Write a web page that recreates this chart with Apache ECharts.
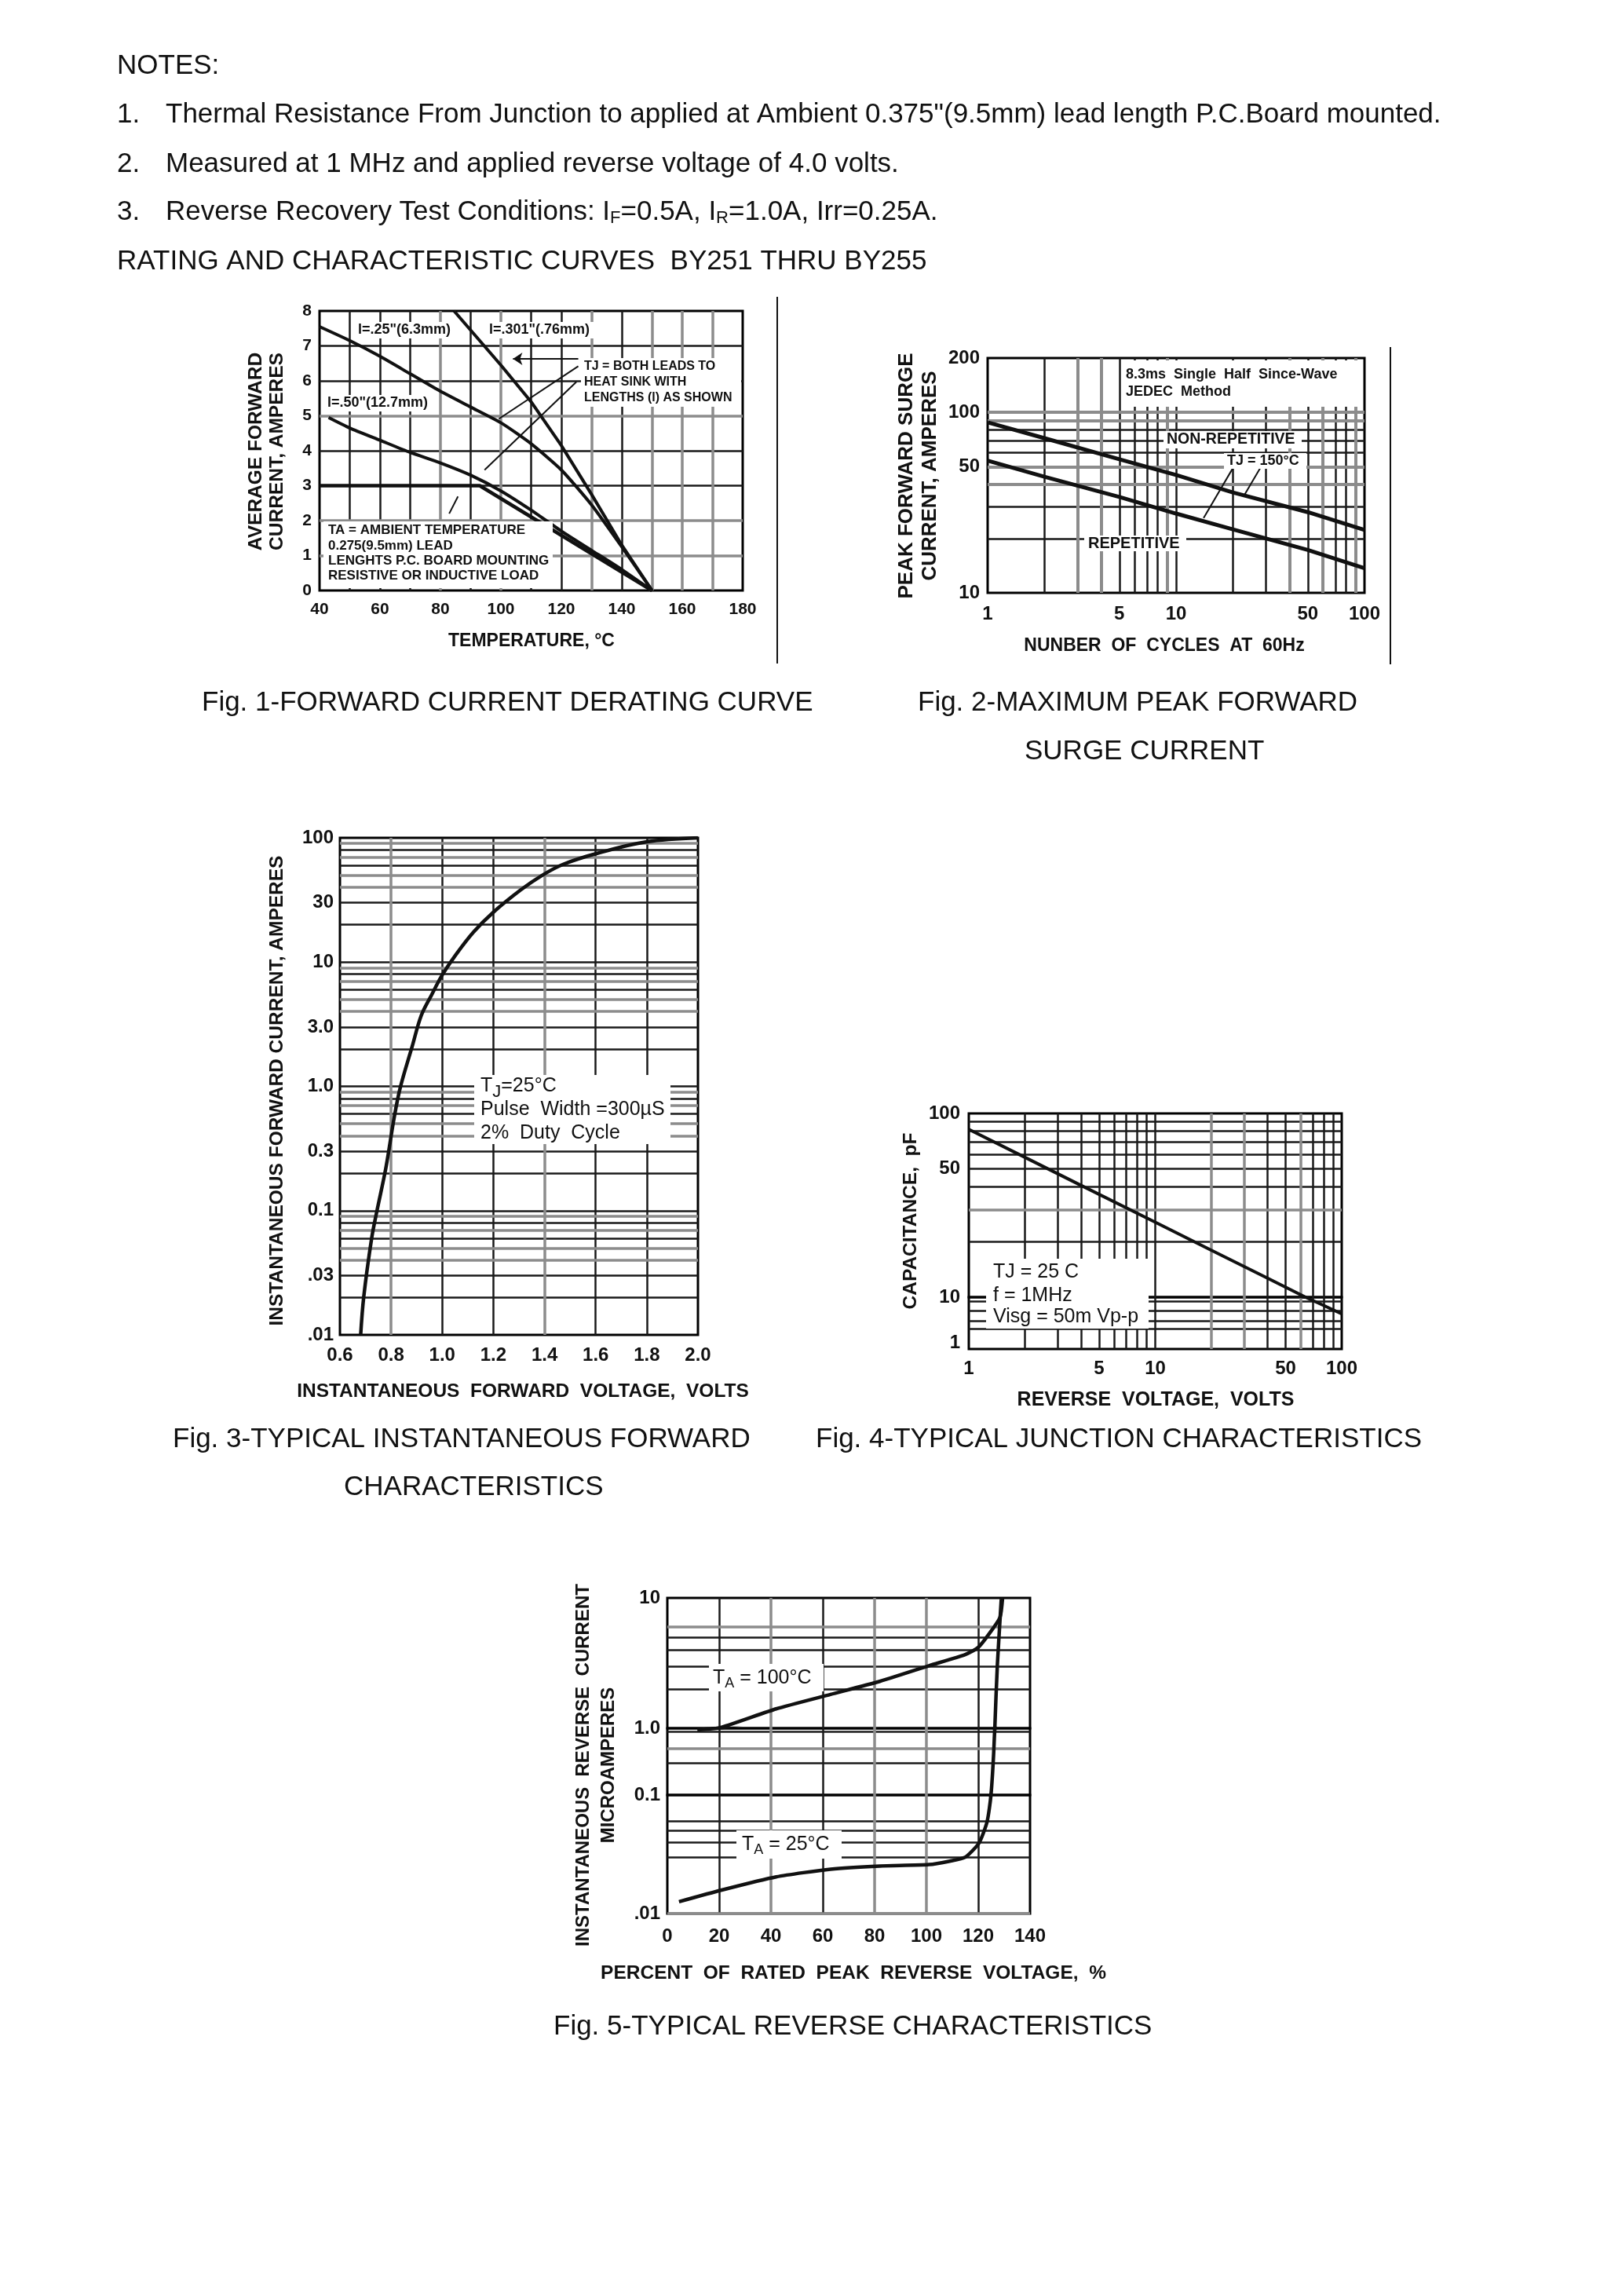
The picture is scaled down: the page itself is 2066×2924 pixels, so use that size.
<!DOCTYPE html>
<html>
<head>
<meta charset="utf-8">
<script src="https://cdn.jsdelivr.net/npm/echarts@6/dist/echarts.min.js"></script>
<style>
  html, body { margin: 0; background: #fff; }
  #page { width: 2066px; height: 2924px; }
</style>
</head>
<body>
<div id="page"></div>
<script>
// ---- Fig. 1 forward current derating (temperature °C / amperes)
const fig1TempShort = [84.5, 90, 100, 110, 120, 130, 140, 150];
const fig1AmpShort = [8, 7.45, 6.45, 5.4, 4.15, 2.75, 1.3, 0];
const fig1TempMid = [40, 50, 60, 70, 80, 90, 100, 110, 120, 130, 140, 150];
const fig1AmpMid = [7.55, 7.15, 6.7, 6.2, 5.7, 5.25, 4.8, 4.2, 3.45, 2.45, 1.25, 0];
const fig1TempLong = [43, 50, 60, 70, 80, 90, 100, 110, 120, 130, 140, 150];
const fig1AmpLong = [4.95, 4.65, 4.3, 3.95, 3.65, 3.3, 2.85, 2.3, 1.7, 1.15, 0.6, 0];
const fig1TempAmbient = [40, 93, 150];
const fig1AmpAmbient = [3, 3, 0];
const fig1GridXDark = [50, 60, 70, 90, 110, 120, 140];
const fig1GridXLight = [80, 100, 130, 150, 160, 170];
const fig1GridYDark = [3, 4, 6, 7];
const fig1GridYLight = [1, 2, 5];
const fig1LeaderFrom = [[125.6, 6.63], [125.6, 6.42], [125, 5.97], [85.8, 2.69]];
const fig1LeaderTo = [[104, 6.63], [99.3, 4.91], [94.6, 3.45], [82.9, 2.2]];

// ---- Fig. 2 peak forward surge current (cycles / amperes)
const fig2Cycles = [1, 2, 5, 10, 20, 50, 100];
const fig2NonRepetitive = [88, 72, 55, 45, 36, 28, 22.3];
const fig2Repetitive = [54, 44, 34, 27.5, 22.5, 17.3, 13.7];
const fig2TicksY = [10, 50, 100, 200];
const fig2TickLabelsY = ['10', '50', '100', '200'];
const fig2GridXDark = [2, 5, 6, 7, 8, 10, 20, 30, 50, 70, 80];
const fig2GridXLight = [3, 4, 9, 40, 60, 90];
const fig2GridYDark = [20, 30, 60, 70, 80];
const fig2GridYLight = [40, 50, 90, 100];
const fig2LeaderFrom = [[20, 49], [27.9, 49]];
const fig2LeaderTo = [[14, 26], [23.1, 35]];

// ---- Fig. 3 instantaneous forward (volts / amperes)
const fig3Volts = [0.681, 0.693, 0.724, 0.744, 0.780, 0.812, 0.836, 0.882, 0.918, 0.959, 1.0, 1.051, 1.123, 1.2, 1.307, 1.389, 1.471, 1.606, 1.8, 2.0];
const fig3Amps = [0.01, 0.0202, 0.06, 0.098, 0.223, 0.56, 0.98, 2.08, 3.72, 5.47, 7.87, 11.3, 17.5, 25.2, 38.1, 49.7, 61, 75, 93, 100];
const fig3TicksY = [0.01, 0.03, 0.1, 0.3, 1, 3, 10, 30, 100];
const fig3TickLabelsY = ['.01', '.03', '0.1', '0.3', '1.0', '3.0', '10', '30', '100'];
const fig3GridXDark = [1.0, 1.2, 1.6, 1.8];
const fig3GridXLight = [0.8, 1.4];
const fig3GridYDark = [0.02, 0.03, 0.06, 0.08, 0.1, 0.2, 0.3, 0.6, 0.8, 1, 2, 3, 6, 8, 10, 20, 30, 60, 80];
const fig3GridYLight = [0.04, 0.05, 0.07, 0.09, 0.4, 0.5, 0.7, 0.9, 4, 5, 7, 9, 40, 50, 70, 90];

// ---- Fig. 4 junction capacitance (volts / pF); drawn on two stacked decades
const fig4Volts = [1, 2, 4, 10, 20, 40, 64, 80, 100];
const fig4Picofarads = [82, 57.7, 40.6, 25.6, 18, 12.7, 10, 6.6, 4.3];
const fig4TicksTop = [10, 50, 100];
const fig4TickLabelsTop = ['10', '50', '100'];
const fig4TicksBottom = [1];
const fig4TickLabelsBottom = ['1'];
const fig4GridXDark = [2, 3, 4, 5, 6, 7, 8, 9, 10, 40, 50, 70, 80, 90];
const fig4GridXLight = [20, 30, 60];
const fig4GridYDark = [2, 3, 5, 8, 20, 40, 50, 60, 70, 80, 90];
const fig4GridYLight = [30];

// ---- Fig. 5 reverse current (percent / microamperes); three stacked decades
const fig5Percent100 = [11.6, 21, 42, 63, 82, 101, 115, 120, 124.5, 128.4, 129.4];
const fig5Micro100 = [0.95, 1.02, 1.41, 1.82, 2.29, 3.02, 3.68, 4.17, 5.4, 7.1, 10];
const fig5Percent25 = [4.5, 21, 42, 63, 82, 101, 109, 115, 120.3, 123.4, 124.9, 125.9, 126.4, 127.4, 128.9];
const fig5Micro25 = [0.0126, 0.0158, 0.0204, 0.0237, 0.0252, 0.0259, 0.0277, 0.0299, 0.0394, 0.0593, 0.1, 0.38, 1.0, 3.1, 9.8];
const fig5TicksA = [1, 10];
const fig5TickLabelsA = ['1.0', '10'];
const fig5TicksB = [0.1];
const fig5TickLabelsB = ['0.1'];
const fig5TicksC = [0.01];
const fig5TickLabelsC = ['.01'];
const fig5GridXDark = [20, 60, 120];
const fig5GridXLight = [40, 80, 100];
const fig5GridYDark = [0.03, 0.04, 0.05, 0.06, 0.3, 0.9, 2, 3, 4, 5];
const fig5GridYLight = [0.015, 0.5, 6];

const logTicksX = [1, 5, 10, 50, 100];
const logTickLabelsX = ['1', '5', '10', '50', '100'];

const FONT = '"Liberation Sans", Arial, Helvetica, sans-serif';
const INK = '#111';
const DARK = '#1a1a1a';
const LIGHT = '#8c8c8c';

const pick = (vals, txt) => v => {
  const i = vals.findIndex(t => Math.abs(t - v) < t * 1e-3 + 1e-9);
  return i < 0 ? '' : txt[i];
};

function axis(gridIndex, type, min, max, label, extra) {
  return Object.assign({
    gridIndex, type, min, max,
    axisLine: { show: false }, axisTick: { show: false }, splitLine: { show: false },
    axisLabel: Object.assign({ fontFamily: FONT, fontWeight: 'bold', fontSize: 24, color: INK }, label)
  }, extra || {});
}

function rules(gi, xs, ys, color, width, yMin, yMax) {
  const inY = ys.filter(v => yMin === undefined || (v > yMin && v < yMax));
  return {
    type: 'line', xAxisIndex: gi, yAxisIndex: gi, data: [], silent: true, z: 1,
    markLine: {
      silent: true, symbol: 'none', animation: false, label: { show: false },
      lineStyle: { color, width, type: 'solid', opacity: 1 },
      data: xs.map(v => ({ xAxis: v })).concat(inY.map(v => ({ yAxis: v })))
    }
  };
}

function curve(gi, xs, ys, width, smooth) {
  return {
    type: 'line', xAxisIndex: gi, yAxisIndex: gi, silent: true, z: 10,
    data: xs.map((x, i) => [x, ys[i]]), symbol: 'none', clip: true,
    smooth: smooth || false, lineStyle: { color: INK, width }
  };
}

function leaders(gi, from, to, arrowFirst) {
  return {
    type: 'line', xAxisIndex: gi, yAxisIndex: gi, data: [], silent: true, z: 8,
    markLine: {
      silent: true, animation: false, label: { show: false }, symbol: 'none',
      lineStyle: { color: INK, width: 2, type: 'solid' },
      data: from.map((p, i) => [
        { coord: p, symbol: 'none' },
        { coord: to[i], symbol: (arrowFirst && i === 0) ? 'arrow' : 'none', symbolSize: 12 }
      ])
    }
  };
}

function text(x, y, str, size, opts) {
  return {
    type: 'text', x, y, z: 30, silent: true,
    style: Object.assign({ text: str, fontFamily: FONT, fontSize: size, fill: INK,
      align: 'left', verticalAlign: 'middle' }, opts || {})
  };
}
function boldText(x, y, str, size, opts) {
  return text(x, y, str, size, Object.assign({ fontWeight: 'bold' }, opts || {}));
}
function vText(x, y, str, size, lh) {
  const t = boldText(x, y, str, size, { align: 'center', lineHeight: lh || size + 4 });
  t.rotation = Math.PI / 2;
  return t;
}
function box(x, y, w, h) {
  return { type: 'rect', z: 25, silent: true, shape: { x, y, width: w, height: h }, style: { fill: '#fff' } };
}
function rule(x1, y1, x2, y2) {
  return { type: 'line', z: 25, silent: true, shape: { x1, y1, x2, y2 }, style: { stroke: INK, lineWidth: 2 } };
}

const frame = { show: true, borderColor: '#000', borderWidth: 3, backgroundColor: 'transparent' };
const grids = [
  Object.assign({ left: 407, top: 396, width: 539, height: 356 }, frame),
  Object.assign({ left: 1258, top: 456, width: 480, height: 299 }, frame),
  Object.assign({ left: 433, top: 1067, width: 456, height: 633 }, frame),
  Object.assign({ left: 1234, top: 1418, width: 475, height: 234 }, frame),
  Object.assign({ left: 1234, top: 1652, width: 475, height: 66 }, frame),
  Object.assign({ left: 850, top: 2035, width: 462, height: 166 }, frame),
  Object.assign({ left: 850, top: 2201, width: 462, height: 85 }, frame),
  Object.assign({ left: 850, top: 2286, width: 462, height: 151 }, frame)
];

const hidden = { show: false };
const xAxes = [
  axis(0, 'value', 40, 180, { margin: 14, fontSize: 21 }, { interval: 20 }),
  axis(1, 'log', 1, 100, { margin: 15, customValues: logTicksX, formatter: pick(logTicksX, logTickLabelsX) }),
  axis(2, 'value', 0.6, 2.0, { margin: 14, formatter: v => v.toFixed(1) }, { interval: 0.2 }),
  axis(3, 'log', 1, 100, hidden),
  axis(4, 'log', 1, 100, { margin: 13, customValues: logTicksX, formatter: pick(logTicksX, logTickLabelsX) }),
  axis(5, 'value', 0, 140, hidden, { interval: 20 }),
  axis(6, 'value', 0, 140, hidden, { interval: 20 }),
  axis(7, 'value', 0, 140, { margin: 17 }, { interval: 20 })
];
const yAxes = [
  axis(0, 'value', 0, 8, { margin: 10, fontSize: 21 }, { interval: 1 }),
  axis(1, 'log', 10, 200, { margin: 10, customValues: fig2TicksY, formatter: pick(fig2TicksY, fig2TickLabelsY) }),
  axis(2, 'log', 0.01, 100, { margin: 8, customValues: fig3TicksY, formatter: pick(fig3TicksY, fig3TickLabelsY) }),
  axis(3, 'log', 10, 100, { margin: 11, customValues: fig4TicksTop, formatter: pick(fig4TicksTop, fig4TickLabelsTop) }),
  axis(4, 'log', 0.73, 10, { margin: 11, customValues: fig4TicksBottom, formatter: pick(fig4TicksBottom, fig4TickLabelsBottom) }),
  axis(5, 'log', 1, 10, { margin: 9, customValues: fig5TicksA, formatter: pick(fig5TicksA, fig5TickLabelsA) }),
  axis(6, 'log', 0.1, 1, { margin: 9, customValues: fig5TicksB, formatter: pick(fig5TicksB, fig5TickLabelsB) }),
  axis(7, 'log', 0.01, 0.1, { margin: 9, customValues: fig5TicksC, formatter: pick(fig5TicksC, fig5TickLabelsC) })
];

const series = [
  // Fig. 1
  rules(0, fig1GridXDark, fig1GridYDark, DARK, 2.5),
  rules(0, fig1GridXLight, fig1GridYLight, LIGHT, 3.5),
  curve(0, fig1TempShort, fig1AmpShort, 4),
  curve(0, fig1TempMid, fig1AmpMid, 4, 0.2),
  curve(0, fig1TempLong, fig1AmpLong, 4, 0.2),
  curve(0, fig1TempAmbient, fig1AmpAmbient, 4.5),
  leaders(0, fig1LeaderFrom, fig1LeaderTo, true),
  // Fig. 2
  rules(1, fig2GridXDark, fig2GridYDark, DARK, 2.5),
  rules(1, fig2GridXLight, fig2GridYLight, LIGHT, 4),
  curve(1, fig2Cycles, fig2NonRepetitive, 5),
  curve(1, fig2Cycles, fig2Repetitive, 5),
  leaders(1, fig2LeaderFrom, fig2LeaderTo, false),
  // Fig. 3
  rules(2, fig3GridXDark, fig3GridYDark, DARK, 2.5),
  rules(2, fig3GridXLight, fig3GridYLight, LIGHT, 3.5),
  curve(2, fig3Volts, fig3Amps, 4.5, 0.35),
  // Fig. 4
  rules(3, fig4GridXDark, fig4GridYDark, DARK, 2.5, 10, 100),
  rules(3, fig4GridXLight, fig4GridYLight, LIGHT, 3.5, 10, 100),
  rules(4, fig4GridXDark, fig4GridYDark, DARK, 2.5, 0.73, 10),
  rules(4, fig4GridXLight, fig4GridYLight, LIGHT, 3.5, 0.73, 10),
  curve(3, fig4Volts, fig4Picofarads, 4),
  curve(4, fig4Volts, fig4Picofarads, 4),
  // Fig. 5
  rules(5, fig5GridXDark, fig5GridYDark, DARK, 2.5, 1, 10),
  rules(5, fig5GridXLight, fig5GridYLight, LIGHT, 3.5, 1, 10),
  rules(6, fig5GridXDark, fig5GridYDark, DARK, 2.5, 0.1, 1),
  rules(6, fig5GridXLight, fig5GridYLight, LIGHT, 3.5, 0.1, 1),
  rules(7, fig5GridXDark, fig5GridYDark, DARK, 2.5, 0.01, 0.1),
  rules(7, fig5GridXLight, fig5GridYLight, LIGHT, 3.5, 0.01, 0.1)
];
[5, 6, 7].forEach(gi => {
  series.push(curve(gi, fig5Percent100, fig5Micro100, 4.5, 0.2));
  series.push(curve(gi, fig5Percent25, fig5Micro25, 4.5, 0.2));
});

const sub = { s: { fontSize: 22, padding: [15, 0, 0, 0] } };
const subMid = { s: { fontSize: 18, padding: [14, 0, 0, 0] } };

const graphics = [
  // notes
  text(149, 84, 'NOTES:', 35),
  text(149, 146, '1.', 35), text(211, 146, 'Thermal Resistance From Junction to applied at Ambient 0.375"(9.5mm) lead length P.C.Board mounted.', 35),
  text(149, 209, '2.', 35), text(211, 209, 'Measured at 1 MHz and applied reverse voltage of 4.0 volts.', 35),
  text(149, 270, '3.', 35), text(211, 270, 'Reverse Recovery Test Conditions: I{s|F}=0.5A, I{s|R}=1.0A, Irr=0.25A.', 35, { rich: sub }),
  text(149, 333, 'RATING AND CHARACTERISTIC CURVES  BY251 THRU BY255', 35),
  // captions
  text(257, 895, 'Fig. 1-FORWARD CURRENT DERATING CURVE', 35),
  text(1169, 895, 'Fig. 2-MAXIMUM PEAK FORWARD', 35),
  text(1305, 957, 'SURGE CURRENT', 35),
  text(220, 1833, 'Fig. 3-TYPICAL INSTANTANEOUS FORWARD', 35),
  text(438, 1894, 'CHARACTERISTICS', 35),
  text(1039, 1833, 'Fig. 4-TYPICAL JUNCTION CHARACTERISTICS', 35),
  text(705, 2581, 'Fig. 5-TYPICAL REVERSE CHARACTERISTICS', 35),
  // separators
  rule(990, 378, 990, 845),
  rule(1771, 442, 1771, 846),
  // axis titles
  vText(340, 575, 'AVERAGE FORWARD\nCURRENT, AMPERES', 24.5, 27),
  boldText(677, 817, 'TEMPERATURE, °C', 23, { align: 'center' }),
  vText(1170, 606, 'PEAK FORWARD SURGE\nCURRENT, AMPERES', 26, 30),
  boldText(1483, 823, 'NUNBER  OF  CYCLES  AT  60Hz', 23, { align: 'center' }),
  vText(353, 1389, 'INSTANTANEOUS FORWARD CURRENT, AMPERES', 24.5),
  boldText(666, 1772, 'INSTANTANEOUS  FORWARD  VOLTAGE,  VOLTS', 24.5, { align: 'center' }),
  vText(1160, 1555, 'CAPACITANCE,  pF', 24.5),
  boldText(1472, 1783, 'REVERSE  VOLTAGE,  VOLTS', 25, { align: 'center' }),
  vText(759, 2248, 'INSTANTANEOUS  REVERSE  CURRENT\nMICROAMPERES', 24, 32),
  boldText(1087, 2513, 'PERCENT  OF  RATED  PEAK  REVERSE  VOLTAGE,  %', 24.5, { align: 'center' }),
  // Fig. 1 notes in plot
  box(453, 410, 132, 21), boldText(456, 420, 'l=.25"(6.3mm)', 18),
  box(620, 410, 142, 21), boldText(623, 420, 'l=.301"(.76mm)', 18),
  box(413, 503, 142, 21), boldText(417, 513, 'l=.50"(12.7mm)', 18),
  box(740, 456, 204, 62),
  boldText(744, 467, 'TJ = BOTH LEADS TO', 16),
  boldText(744, 487, 'HEAT SINK WITH', 16),
  boldText(744, 507, 'LENGTHS (l) AS SHOWN', 16),
  box(412, 664, 292, 85),
  boldText(418, 675, 'TA = AMBIENT TEMPERATURE', 17),
  boldText(418, 695, '0.275(9.5mm) LEAD', 17),
  boldText(418, 714, 'LENGHTS P.C. BOARD MOUNTING', 17),
  boldText(418, 733, 'RESISTIVE OR INDUCTIVE LOAD', 17),
  // Fig. 2 notes
  box(1429, 459, 306, 59),
  boldText(1434, 477, '8.3ms  Single  Half  Since-Wave', 18),
  boldText(1434, 499, 'JEDEC  Method', 18),
  box(1482, 549, 176, 22), boldText(1486, 560, 'NON-REPETITIVE', 19.5),
  box(1559, 577, 105, 20), boldText(1563, 587, 'TJ = 150°C', 18),
  box(1381, 682, 130, 20), boldText(1386, 692, 'REPETITIVE', 20),
  // Fig. 3 notes
  box(604, 1369, 250, 88),
  text(612, 1383, 'T{s|J}=25°C', 25, { rich: sub }),
  text(612, 1413, 'Pulse  Width =300µS', 25),
  text(612, 1443, '2%  Duty  Cycle', 25),
  // Fig. 4 notes
  box(1256, 1603, 207, 89),
  text(1265, 1620, 'TJ = 25 C', 25),
  text(1265, 1650, 'f = 1MHz', 25),
  text(1265, 1677, 'Visg = 50m Vp-p', 25),
  // Fig. 5 notes
  box(903, 2119, 146, 35), text(908, 2137, 'T{s|A} = 100°C', 25, { rich: subMid }),
  box(938, 2331, 134, 36), text(945, 2349, 'T{s|A} = 25°C', 25, { rich: subMid })
];

const chart = echarts.init(document.getElementById('page'), null, { renderer: 'canvas', width: 2066, height: 2924 });
chart.setOption({
  animation: false,
  backgroundColor: '#fff',
  grid: grids,
  xAxis: xAxes,
  yAxis: yAxes,
  series: series,
  graphic: { elements: graphics }
});
</script>
</body>
</html>
